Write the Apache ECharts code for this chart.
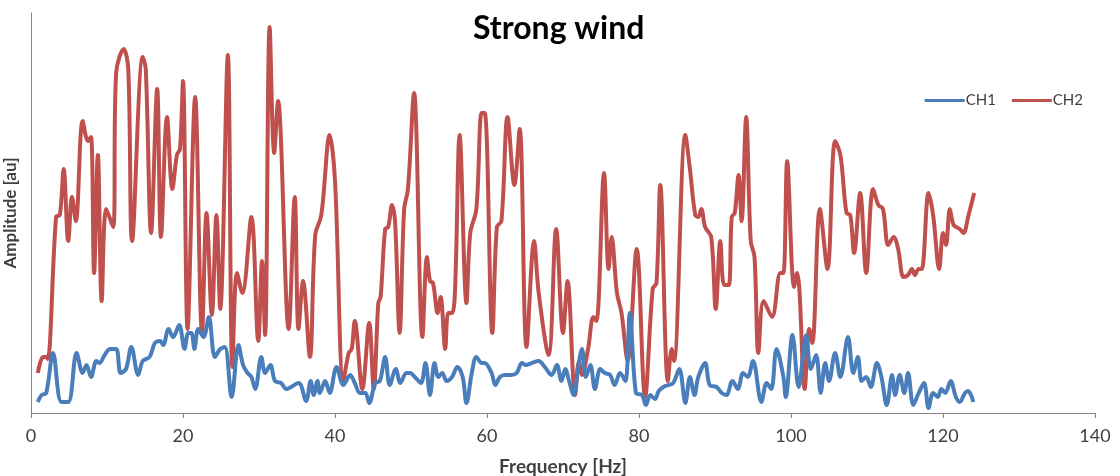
<!DOCTYPE html>
<html>
<head>
<meta charset="utf-8">
<script src="https://cdn.jsdelivr.net/npm/echarts@6/dist/echarts.min.js"></script>
<style>
html,body{margin:0;padding:0;background:#fff;}
#chart{width:1120px;height:476px;}
</style>
</head>
<body>
<div id="chart"></div>
<script>
var chartTitle = 'Strong wind';
var xAxisName = 'Frequency [Hz]';
var yAxisName = 'Amplitude [au]';
var seriesNames = ['CH1', 'CH2'];
var xTicks = [0, 20, 40, 60, 80, 100, 120, 140];

var ch1Freq = [0.9,1.4,2.0,2.9,4.0,4.9,6.0,6.8,7.3,7.9,8.6,9.0,9.7,10.4,11.2,11.8,12.5,13.2,14.1,14.7,15.6,16.3,17.0,17.4,18.1,18.7,19.5,20.2,20.7,21.1,21.5,22.0,22.7,23.4,24.2,24.9,25.5,26.4,27.3,27.9,28.5,29.0,29.5,30.3,30.8,31.5,32.1,32.9,33.6,35.2,36.2,36.8,37.2,37.7,38.0,38.7,39.3,40.2,41.1,42.0,42.6,43.3,44.0,44.5,45.3,45.9,46.6,47.2,48.0,48.6,49.4,49.9,50.5,51.3,51.9,52.5,53.1,53.6,54.1,54.7,55.4,56.1,56.8,57.3,58.0,58.6,59.3,59.7,60.6,61.1,61.7,62.4,63.2,63.9,64.6,65.1,65.9,66.8,67.6,68.5,69.2,69.8,70.3,70.8,71.4,72.0,72.5,73.0,73.6,74.2,74.9,75.5,76.2,76.8,77.5,78.2,78.8,79.6,80.4,80.9,81.5,82.1,82.6,83.2,83.9,84.5,85.3,86.1,86.7,87.3,87.8,88.7,89.3,90.2,90.9,91.5,92.3,93.0,93.7,94.3,95.0,96.1,96.8,97.4,98.1,99.0,99.3,100.2,101.0,102.0,102.6,103.3,103.9,104.5,105.0,105.8,106.5,107.5,108.2,108.8,109.3,109.9,110.5,111.3,111.9,112.6,113.3,113.7,114.3,114.9,115.4,116.1,116.8,117.5,118.1,118.7,119.3,119.8,120.3,121.0,121.7,122.2,122.9,123.3,124.0];
var ch1Amp = [2.75,4.5,5,15,2.75,2.75,15,10,12,9,13,12.5,14.5,16,16,10,11,16.5,9.5,13,14,17.5,18,17,21,19,22,16,20,20,16,21,19,24,14,16,16.5,4,17,12,10,9,6,14,10,12,8,7.5,6,7.5,3,8,4.5,8,5,8,5,11.5,7,9.5,7.5,5,5,2.5,7.5,8,14,7,11,7.5,10,10,9,7.5,12.5,4.5,12.5,9,10,8,9,11.5,9,2.5,10,14,12.5,12.5,10,7,9,9.5,9.5,10,12.5,12,12.5,13,11.5,9.5,12,8,11,8,4.5,11.5,16,9,12,6,11,10,9.5,7,10,8,25,5,4.5,2,4.5,3.5,5.5,6.5,7,7.5,11,2.5,9,4.5,9,12.5,7,6.5,5,4.5,8,6,10,9,13,2.75,7.5,6,16,9,4,19.5,6.5,19.5,11,14.5,5,12.5,8,15,9,19,10,14,8,9,6.5,12.5,9,2,9.5,4.5,9.5,5,10,2,5,7.5,1.25,5,4,6,5,8,4,2.75,5,5.5,2.75];

var ch2Freq = [0.9,1.6,2.0,2.2,3.3,3.8,4.3,4.9,5.4,5.9,6.8,7.5,7.9,8.3,8.8,9.3,9.9,10.8,11.2,12.2,12.8,13.3,14.7,15.1,15.8,16.6,17.1,17.9,18.6,19.2,19.6,20.0,20.6,21.6,22.5,23.1,23.8,24.4,24.9,25.9,26.5,27.1,27.8,29.0,29.9,30.4,30.8,31.4,32.0,32.5,33.9,34.7,35.2,35.8,36.7,37.4,38.2,39.3,40.0,41.1,41.8,42.2,42.6,43.6,44.5,45.1,45.7,46.0,46.6,47.0,47.5,47.9,48.5,49.1,49.6,50.4,51.5,52.1,52.5,52.9,53.5,53.9,54.5,54.9,55.4,55.8,56.4,57.3,57.8,58.6,59.3,59.7,60.7,61.3,61.9,62.7,63.6,64.3,65.2,66.2,66.8,68.1,69.1,70.0,70.6,71.6,72.1,72.5,73.3,74.0,74.4,75.4,76.0,76.4,77.1,77.7,78.5,79.7,80.8,81.8,82.3,82.8,83.8,84.3,84.6,86.1,86.7,87.4,87.8,88.2,88.7,89.5,90.1,90.7,91.2,91.8,92.2,92.6,93.1,93.5,94.1,94.7,95.2,95.7,96.4,97.5,98.6,99.0,99.5,100.4,100.8,101.1,101.8,102.4,102.8,103.8,104.8,105.8,106.5,107.3,107.8,108.3,109.1,109.9,110.8,111.5,112.1,112.8,113.5,114.1,114.8,115.4,115.9,116.3,116.8,117.2,118.1,118.7,119.5,120.0,120.4,120.9,121.4,122.2,122.7,123.3,124.1];
var ch2Amp = [10,14,14,13.5,49,49.5,61,43,54,48,73,68,69,35,64.5,28,51,46.5,85,91,86,43,89,86,45,81,44,74,56,64.5,66,83,21,79,20,50,24.5,49.5,26,89.5,11.5,35,30,49,18,38,19.5,96.5,65,78,21,54,21,33,14,44.5,49.5,69.5,58,8,15,16,23,6,22.5,6,27.5,29,46,46.5,52,48,20,51,56,80,19,39,33,32.5,25,29,16,25,25,31,69.5,27.5,45,51,75,75,20,46.5,48,74,57,71,16.5,43,30,14.5,46,20,33,4.5,13,9.5,16,24,23,60,36,44,30,25,13,41,4,31,32.5,57,8,16,13,69.5,61,49.5,49,51,46.5,44,26,43,32,32,49,50,59.5,48,74,43,39,15,28,24,35,35,63,31.5,35,31,6,21,17.5,51,36,68,64.5,50,49.5,40,55,35,56,52,51,42,44,41,34,34.5,36,34.5,36,36,55,49.5,36,45,42,51,47,46,45,49,55];

function pairs(xs, ys) {
  var out = [];
  for (var i = 0; i < xs.length; i++) out.push([xs[i], ys[i]]);
  return out;
}

var FONT = 'Lato';
var chart = echarts.init(document.getElementById('chart'), null, {renderer: 'canvas'});
chart.setOption({
  animation: false,
  backgroundColor: '#ffffff',
  title: {
    text: chartTitle,
    left: 468,
    top: 8,
    textStyle: {fontFamily: FONT, fontWeight: 'bold', fontSize: 32, color: '#000000'}
  },
  legend: {
    data: seriesNames,
    right: 32,
    top: 88,
    itemWidth: 40,
    itemHeight: 3,
    itemGap: 16,
    icon: 'rect',
    textStyle: {fontFamily: FONT, fontSize: 15, color: '#404040', padding: [0, 0, 0, -4]}
  },
  grid: {left: 31, right: 25, top: 13, bottom: 63, containLabel: false, outerBoundsMode: 'none'},
  xAxis: {
    type: 'value',
    min: 0, max: 140, interval: 20,
    name: xAxisName,
    nameLocation: 'middle',
    nameGap: 44,
    nameTextStyle: {fontFamily: FONT, fontWeight: 'bold', fontSize: 19, color: '#404040'},
    axisLine: {show: true, lineStyle: {color: '#868686', width: 1}},
    axisTick: {show: true, inside: false, length: 5, lineStyle: {color: '#868686'}},
    axisLabel: {fontFamily: FONT, fontSize: 18, color: '#404040', margin: 14,
      formatter: function (v) { return xTicks.indexOf(v) >= 0 ? String(v) : ''; }},
    splitLine: {show: false}
  },
  yAxis: {
    type: 'value',
    min: 0, max: 100,
    name: yAxisName,
    nameLocation: 'middle',
    nameGap: 12,
    nameRotate: 90,
    nameTextStyle: {fontFamily: FONT, fontWeight: 'bold', fontSize: 17, color: '#404040'},
    axisLine: {show: true, lineStyle: {color: '#868686', width: 1}},
    axisTick: {show: false},
    axisLabel: {show: false},
    splitLine: {show: false}
  },
  series: [
    {
      name: seriesNames[0], type: 'line', data: pairs(ch1Freq, ch1Amp),
      smooth: 0.35, showSymbol: false, symbol: 'none',
      lineStyle: {color: '#4A7EBB', width: 4}, itemStyle: {color: '#4A7EBB'}, z: 3
    },
    {
      name: seriesNames[1], type: 'line', data: pairs(ch2Freq, ch2Amp),
      smooth: 0.35, showSymbol: false, symbol: 'none',
      lineStyle: {color: '#C0504D', width: 4}, itemStyle: {color: '#C0504D'}, z: 2
    }
  ]
});
</script>
</body>
</html>
